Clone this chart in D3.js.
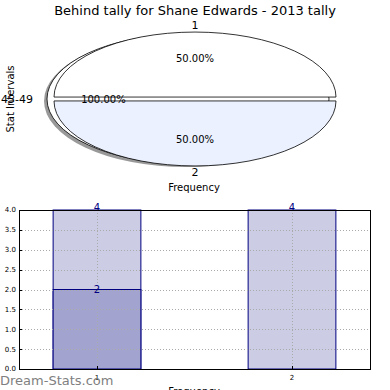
<!DOCTYPE html>
<html>
<head>
<meta charset="utf-8">
<script src="https://cdn.jsdelivr.net/npm/d3@7"></script>
<style>
  body { margin: 0; background: #fff; }
  svg { display: block; font-family: 'DejaVu Sans', sans-serif; }
</style>
</head>
<body>
<div id="chart"></div>
<script>
// pie data
const title = 'Behind tally for Shane Edwards - 2013 tally'
const intervalLabels = ['45-49']
const intervalValues = [1]
const tallyLabels = ['1', '2']
const tallyValues = [2, 2]
const tallyColors = ['#ffffff', '#ebf1ff']

// bar data
const barCategories = [1, 2]
const barTotals = [4, 4]
const barBehind = [2, 0]
const yTicks = [0, 0.5, 1, 1.5, 2, 2.5, 3, 3.5, 4]

const width = 390
const height = 390

const svg = d3.select('#chart').append('svg')
  .attr('width', width)
  .attr('height', height)

svg.append('text')
  .attr('x', 195).attr('y', 15)
  .attr('text-anchor', 'middle')
  .style('font-size', '13px')
  .text(title)

// ---- pie (stretched into an ellipse like the non-equal aspect axes) ----
const rx = 141
const ry = 65
const cx = 195
const cy = 99
const explode = 0.03

const pie = d3.pie().sort(null)
  .startAngle(Math.PI / 2)
  .endAngle(Math.PI / 2 - 2 * Math.PI)
const arc = d3.arc().innerRadius(0).outerRadius(1)

const wedges = svg.append('g')
const labels = svg.append('g')

// outer 100% ring with shadow
const ocx = cx - 7
wedges.append('ellipse')
  .attr('cx', ocx - 2).attr('cy', cy + 2)
  .attr('rx', rx + 1).attr('ry', ry + 1)
  .attr('fill', '#555').attr('opacity', 0.6)
pie(intervalValues).forEach((d, i) => {
  wedges.append('ellipse')
    .attr('cx', ocx).attr('cy', cy)
    .attr('rx', rx).attr('ry', ry)
    .attr('fill', '#fff')
    .attr('stroke', '#000').attr('stroke-width', 0.8)
  const mid = (d.startAngle + d.endAngle) / 2
  const share = d.value / d3.sum(intervalValues)
  labels.append('text')
    .attr('x', ocx + Math.sin(mid) * 1.1 * rx)
    .attr('y', cy - Math.cos(mid) * 1.1 * ry)
    .attr('dy', '0.35em')
    .attr('text-anchor', 'end')
    .style('font-size', '11px')
    .text(intervalLabels[i])
  labels.append('text')
    .attr('x', ocx + Math.sin(mid) * 0.6 * rx)
    .attr('y', cy - Math.cos(mid) * 0.6 * ry)
    .attr('dy', '0.35em')
    .attr('text-anchor', 'middle')
    .style('font-size', '10px')
    .text(d3.format('.2f')(share * 100) + '%')
})

const total = d3.sum(tallyValues)
pie(tallyValues).forEach((d, i) => {
  const mid = (d.startAngle + d.endAngle) / 2
  const ox = cx + Math.sin(mid) * explode * rx
  const oy = cy - Math.cos(mid) * explode * ry
  wedges.append('path')
    .attr('d', arc(d))
    .attr('transform', `translate(${ox},${oy}) scale(${rx},${ry})`)
    .attr('fill', tallyColors[i])
    .attr('stroke', '#000')
    .attr('stroke-width', 0.8)
    .attr('vector-effect', 'non-scaling-stroke')
  labels.append('text')
    .attr('x', ox + Math.sin(mid) * 1.1 * rx)
    .attr('y', oy - Math.cos(mid) * 1.1 * ry)
    .attr('dy', '0.35em')
    .attr('text-anchor', 'middle')
    .style('font-size', '11px')
    .text(tallyLabels[i])
  labels.append('text')
    .attr('x', ox + Math.sin(mid) * 0.6 * rx)
    .attr('y', oy - Math.cos(mid) * 0.6 * ry)
    .attr('dy', '0.35em')
    .attr('text-anchor', 'middle')
    .style('font-size', '10px')
    .text(d3.format('.2f')(d.value / total * 100) + '%')
})

svg.append('text')
  .attr('transform', 'translate(14,99) rotate(-90)')
  .attr('text-anchor', 'middle')
  .style('font-size', '10px')
  .text('Stat Intervals')
svg.append('text')
  .attr('x', 194).attr('y', 191)
  .attr('text-anchor', 'middle')
  .style('font-size', '10px')
  .text('Frequency')

// ---- bar chart ----
const bLeft = 19, bRight = 370, bTop = 210, bBottom = 369
const x = d3.scaleLinear().domain([0.6, 2.4]).range([bLeft, bRight])
const y = d3.scaleLinear().domain([0, 4]).range([bBottom, bTop])
const barW = 0.45

const bars = svg.append('g')
barCategories.forEach((c, i) => {
  bars.append('rect')
    .attr('x', x(c - barW / 2)).attr('y', y(barTotals[i]))
    .attr('width', x(c + barW / 2) - x(c - barW / 2))
    .attr('height', y(0) - y(barTotals[i]))
    .attr('fill', '#ccccE5')
    .attr('stroke', '#000080').attr('stroke-width', 1)
  if (barBehind[i] > 0) {
    bars.append('rect')
      .attr('x', x(c - barW / 2)).attr('y', y(barBehind[i]))
      .attr('width', x(c + barW / 2) - x(c - barW / 2))
      .attr('height', y(0) - y(barBehind[i]))
      .attr('fill', '#a3a3d0')
      .attr('stroke', '#000080').attr('stroke-width', 1)
  }
})

const grid = svg.append('g')
  .attr('stroke', '#aaa')
  .attr('stroke-width', 1)
  .attr('stroke-dasharray', '1,2')
yTicks.slice(1, -1).forEach(t => {
  grid.append('line')
    .attr('x1', bLeft).attr('x2', bRight)
    .attr('y1', Math.round(y(t)) + 0.5).attr('y2', Math.round(y(t)) + 0.5)
})
barCategories.forEach(c => {
  grid.append('line')
    .attr('x1', Math.round(x(c)) + 0.5).attr('x2', Math.round(x(c)) + 0.5)
    .attr('y1', bTop).attr('y2', bBottom)
})

barCategories.forEach((c, i) => {
  svg.append('text')
    .attr('x', x(c)).attr('y', y(barTotals[i]) + 1)
    .attr('text-anchor', 'middle')
    .attr('fill', '#000080')
    .style('font-size', '10px')
    .text(barTotals[i])
  if (barBehind[i] > 0) {
    svg.append('text')
      .attr('x', x(c)).attr('y', y(barBehind[i]) + 3)
      .attr('text-anchor', 'middle')
      .attr('fill', '#000080')
      .style('font-size', '10px')
      .text(barBehind[i])
  }
})

svg.append('rect')
  .attr('x', bLeft + 0.5).attr('y', bTop + 0.5)
  .attr('width', bRight - bLeft).attr('height', bBottom - bTop)
  .attr('fill', 'none').attr('stroke', '#000').attr('stroke-width', 1)

const yAxis = svg.append('g')
yTicks.forEach(t => {
  yAxis.append('line')
    .attr('x1', bLeft).attr('x2', bLeft + 3)
    .attr('y1', Math.round(y(t)) + 0.5).attr('y2', Math.round(y(t)) + 0.5)
    .attr('stroke', '#000')
  yAxis.append('text')
    .attr('x', bLeft - 3).attr('y', y(t))
    .attr('dy', '0.35em')
    .attr('text-anchor', 'end')
    .style('font-size', '7px')
    .text(d3.format('.1f')(t))
})
barCategories.forEach(c => {
  svg.append('line')
    .attr('x1', Math.round(x(c)) + 0.5).attr('x2', Math.round(x(c)) + 0.5)
    .attr('y1', bBottom).attr('y2', bBottom - 3)
    .attr('stroke', '#000')
  svg.append('text')
    .attr('x', x(c)).attr('y', bBottom + 11)
    .attr('text-anchor', 'middle')
    .style('font-size', '7px')
    .text(c)
})

svg.append('text')
  .attr('x', 0).attr('y', 385)
  .attr('fill', '#808080')
  .style('font-size', '13px')
  .text('Dream-Stats.com')

svg.append('text')
  .attr('x', 194).attr('y', 395)
  .attr('text-anchor', 'middle')
  .style('font-size', '10px')
  .text('Frequency')
</script>
</body>
</html>
